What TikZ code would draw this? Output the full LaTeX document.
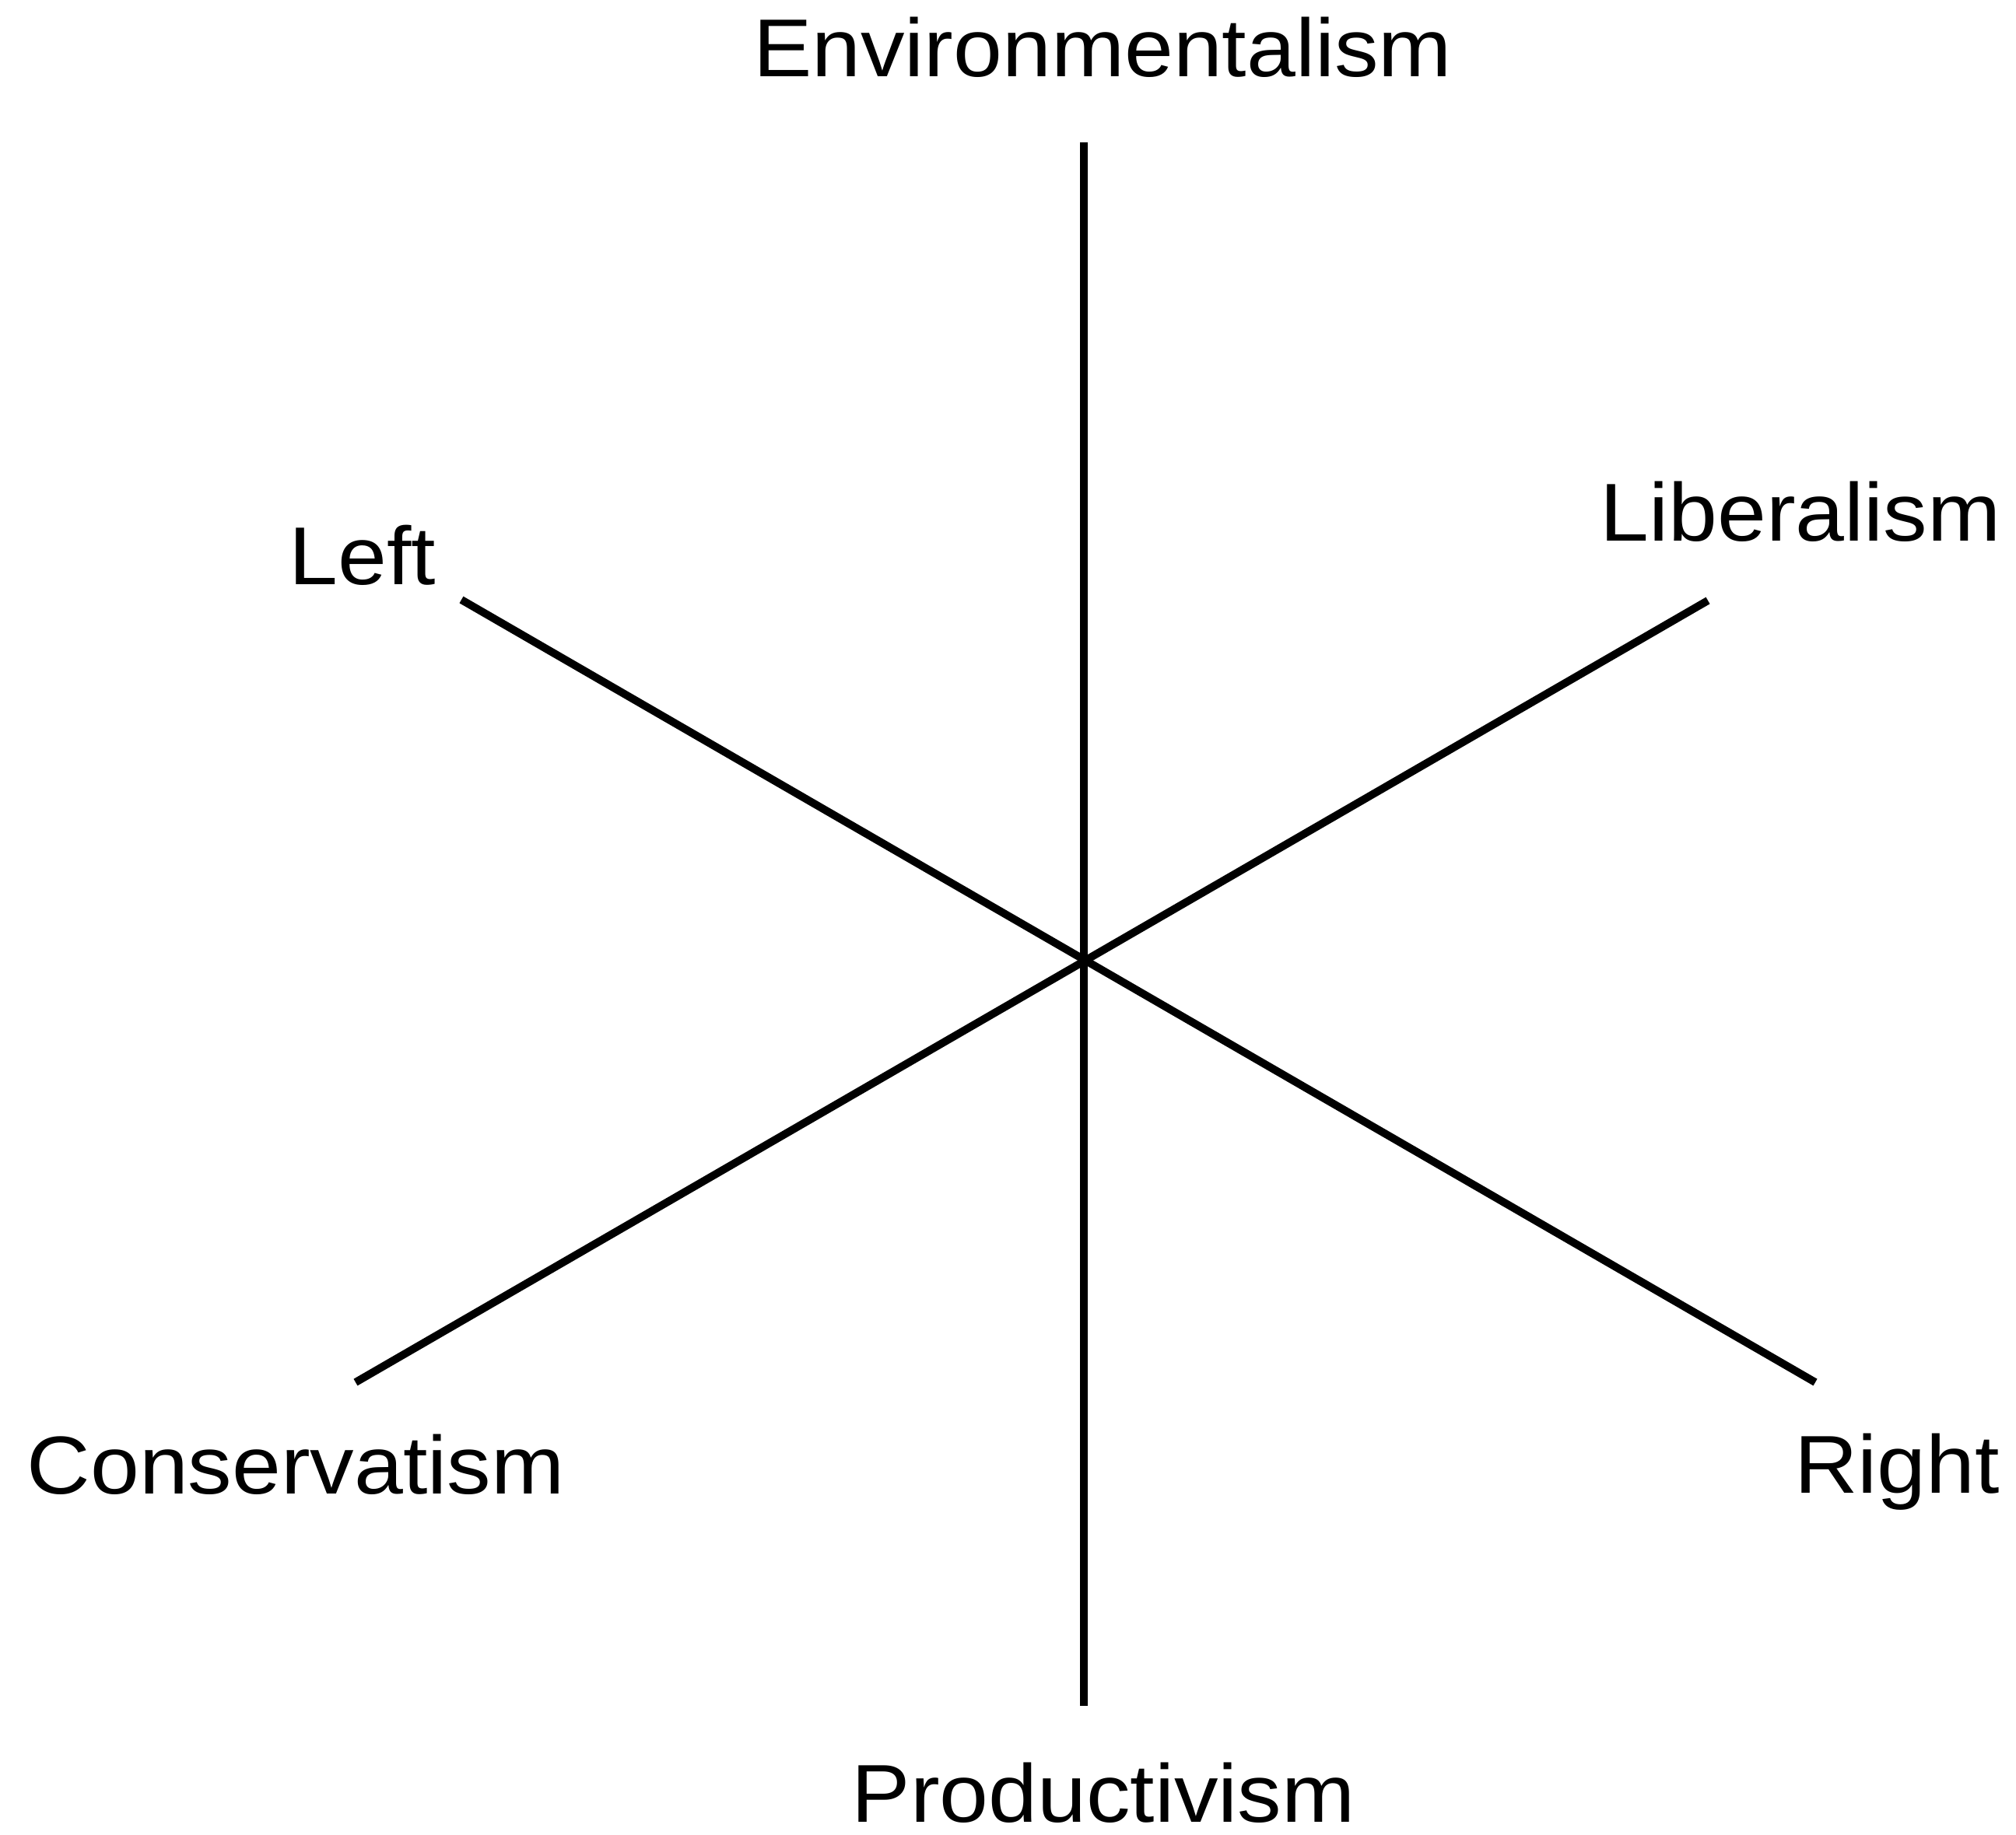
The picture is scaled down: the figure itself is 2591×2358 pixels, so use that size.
\documentclass[tikz,border=0pt]{standalone}
\usepackage{fontspec}
\setmainfont{Liberation Sans}
\newcommand{\wide}[1]{\scalebox{1.07}[1]{#1}}
\begin{document}
\begin{tikzpicture}[x=0.25pt,y=-0.25pt,
  axis/.style={line width=2.5pt,line cap=butt,black},
  lbl/.style={inner sep=0pt,anchor=base,font=\fontsize{26.4}{30}\selectfont}]
\useasboundingbox (0,0) rectangle (2591,2358);
\coordinate (top) at (1393,183);
\coordinate (bottom) at (1393,2193);
\coordinate (leftend) at (593,771);
\coordinate (rightend) at (2333,1777);
\coordinate (libend) at (2195,772);
\coordinate (consend) at (457,1777);
\draw[axis] (top) -- (bottom);
\draw[axis] (leftend) -- (rightend);
\draw[axis] (libend) -- (consend);
\node[lbl] (env) at (1417,98) {\wide{Environmentalism}};
\node[lbl] (left) at (466,751) {\wide{Left}};
\node[lbl] (lib) at (2314,695) {\wide{Liberalism}};
\node[lbl] (cons) at (380,1920) {\wide{Conservatism}};
\node[lbl] (right) at (2438,1919) {\wide{Right}};
\node[lbl] (prod) at (1418,2342) {\wide{Productivism}};
\end{tikzpicture}
\end{document}
